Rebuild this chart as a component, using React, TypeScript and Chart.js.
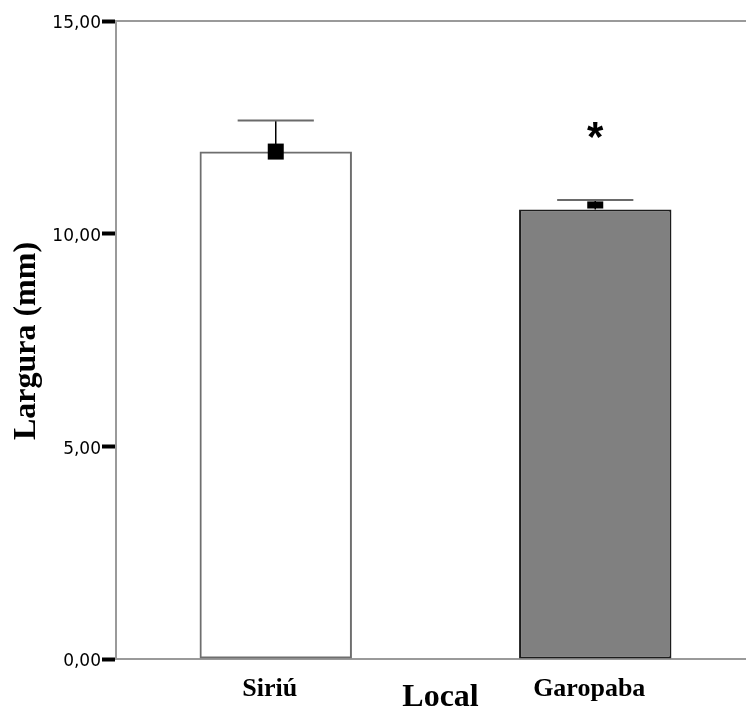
import React, { useEffect, useRef } from "react";
import { Chart, registerables } from "chart.js";

Chart.register(...registerables);

const categories = ["Siriú", "Garopaba"];
const means = [11.93, 10.57];
const errors = [0.73, 0.22];
const barFills = ["rgba(255,255,255,0)", "#808080"];
const barBorders = ["#6e6e6e", "#1c1c1c"];
const significant = [false, true];
const yTicks = [0, 5, 10, 15];
const yTitle = "Largura (mm)";
const xTitle = "Local";

const serif = '"Liberation Serif", "Times New Roman", serif';

const decorations = {
  id: "decorations",
  beforeDatasetsDraw(chart: any) {
    const { ctx, chartArea, scales } = chart;
    const y = scales.y;
    const meta = chart.getDatasetMeta(0);
    ctx.save();
    // top frame line
    ctx.strokeStyle = "#9a9a9a";
    ctx.lineWidth = 2;
    ctx.beginPath();
    ctx.moveTo(chartArea.left, chartArea.top);
    ctx.lineTo(chartArea.right + 2, chartArea.top);
    ctx.stroke();
    // error bars (mean to mean + error)
    meta.data.forEach((bar: any, i: number) => {
      const yMean = y.getPixelForValue(means[i]);
      const yTop = y.getPixelForValue(means[i] + errors[i]);
      const half = bar.width / 4;
      ctx.strokeStyle = "#000";
      ctx.lineWidth = 1.5;
      ctx.beginPath();
      ctx.moveTo(bar.x, yMean);
      ctx.lineTo(bar.x, yTop);
      ctx.stroke();
      ctx.strokeStyle = "#6a6a6a";
      ctx.lineWidth = 2;
      ctx.beginPath();
      ctx.moveTo(bar.x - half, yTop);
      ctx.lineTo(bar.x + half, yTop);
      ctx.stroke();
    });
    ctx.restore();
  },
  afterDatasetsDraw(chart: any) {
    const { ctx, chartArea, scales } = chart;
    const y = scales.y;
    const meta = chart.getDatasetMeta(0);
    ctx.save();
    meta.data.forEach((bar: any, i: number) => {
      const yMean = y.getPixelForValue(means[i]);
      const s = 16;
      ctx.save();
      if (barFills[i] !== "rgba(255,255,255,0)") {
        ctx.beginPath();
        ctx.rect(bar.x - s, 0, 2 * s, yMean - 1);
        ctx.clip();
      }
      ctx.fillStyle = "#000";
      ctx.fillRect(bar.x - s / 2, yMean - s / 2, s, s);
      ctx.restore();

      // category label
      ctx.fillStyle = "#000";
      ctx.font = `bold 26px ${serif}`;
      ctx.textAlign = "center";
      ctx.textBaseline = "alphabetic";
      ctx.fillText(categories[i], bar.x - 6, chartArea.bottom + 37);

      if (significant[i]) {
        const yTop = y.getPixelForValue(means[i] + errors[i]);
        ctx.font = `bold 42px "Liberation Sans", Arial, sans-serif`;
        ctx.textBaseline = "middle";
        ctx.fillText("*", bar.x, yTop - 61);
      }
    });

    // axis titles
    ctx.fillStyle = "#000";
    ctx.font = `bold 32px ${serif}`;
    ctx.textAlign = "center";
    ctx.textBaseline = "alphabetic";
    ctx.fillText(xTitle, (chartArea.left + chartArea.right) / 2 + 5, chartArea.bottom + 47);

    ctx.translate(35, (chartArea.top + chartArea.bottom) / 2 + 1);
    ctx.rotate(-Math.PI / 2);
    ctx.fillText(yTitle, 0, 0);
    ctx.restore();
  },
};

export default function App() {
  const canvasRef = useRef<HTMLCanvasElement | null>(null);

  useEffect(() => {
    const canvas = canvasRef.current;
    if (!canvas) return;
    const chart = new Chart(canvas, {
      type: "bar",
      data: {
        labels: categories,
        datasets: [
          {
            data: means,
            backgroundColor: barFills,
            borderColor: barBorders,
            borderWidth: 2,
            borderSkipped: false,
            categoryPercentage: 1,
            barPercentage: 0.477,
          },
        ],
      },
      options: {
        animation: false,
        responsive: false,
        maintainAspectRatio: false,
        events: [],
        layout: { padding: { top: 21, left: 0, right: 0, bottom: 0 } },
        plugins: {
          legend: { display: false },
          tooltip: { enabled: false },
          title: { display: false },
        },
        scales: {
          x: {
            type: "category",
            grid: { display: false },
            ticks: { display: false },
            border: { display: true, color: "#9a9a9a", width: 2 },
            afterFit(scale: any) {
              scale.height = 50;
            },
          },
          y: {
            type: "linear",
            min: 0,
            max: 15,
            afterBuildTicks(scale: any) {
              scale.ticks = yTicks.map((v) => ({ value: v }));
            },
            ticks: {
              color: "#000",
              padding: 1,
              labelOffset: 3,
              font: { family: '"DejaVu Sans", sans-serif', size: 17 },
              callback: (v: any) => Number(v).toFixed(2).replace(".", ","),
            },
            grid: {
              drawOnChartArea: false,
              drawTicks: true,
              tickLength: 14,
              tickWidth: 4,
              tickColor: "#000",
            },
            border: { display: true, color: "#9a9a9a", width: 2 },
            afterFit(scale: any) {
              scale.width = 116;
            },
          },
        },
      },
      plugins: [decorations],
    });
    return () => chart.destroy();
  }, []);

  return (
    <div
      style={{
        position: "absolute",
        left: 0,
        top: 0,
        width: 746,
        height: 709,
        overflow: "hidden",
        background: "#fff",
      }}
    >
      <canvas ref={canvasRef} width={755} height={709} style={{ display: "block" }} />
    </div>
  );
}
